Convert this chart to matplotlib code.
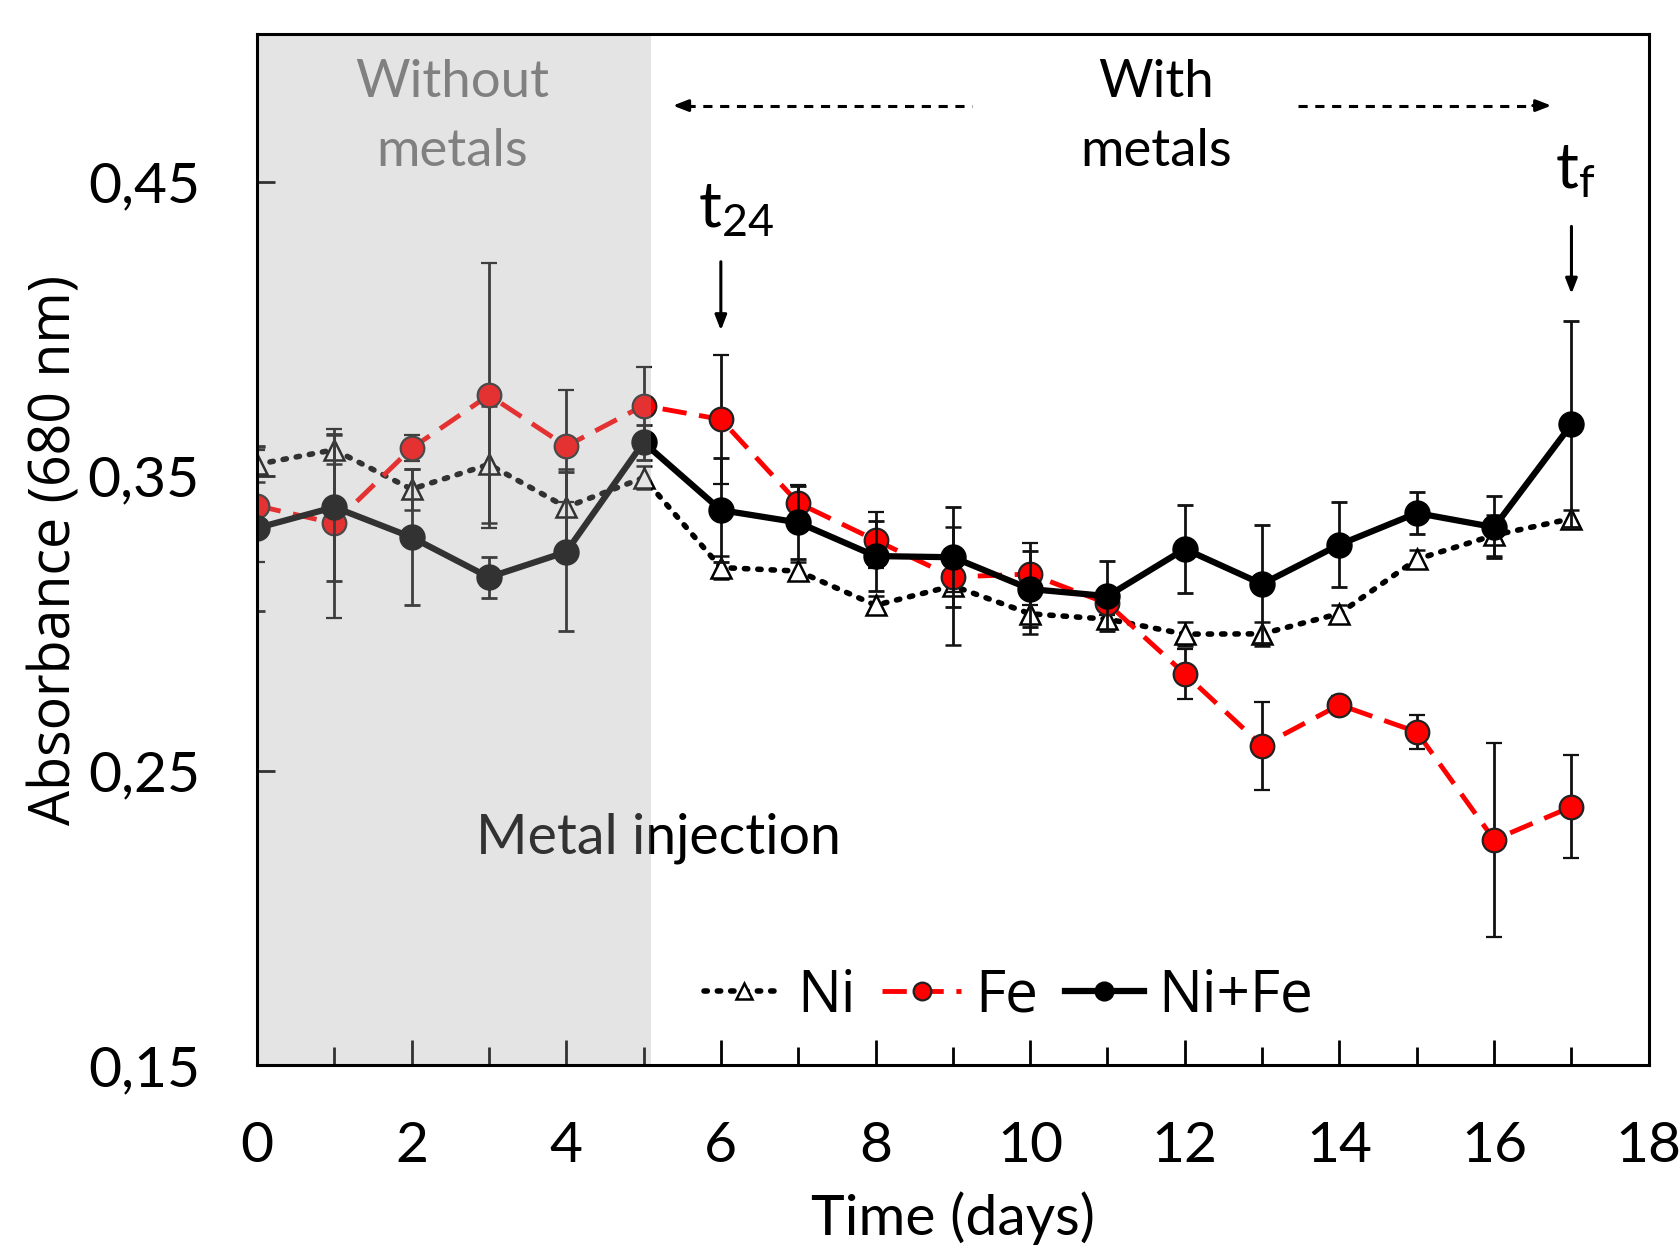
"""Absorbance at 680 nm over time for the Ni, Fe and Ni+Fe cultures."""

import matplotlib
matplotlib.use("Agg")
import matplotlib.pyplot as plt
from matplotlib.lines import Line2D
from matplotlib.ticker import FixedLocator, MultipleLocator

days = list(range(18))

ni = [0.354, 0.359, 0.3456, 0.354, 0.3395, 0.3495, 0.3190, 0.3178, 0.3062,
      0.3128, 0.3033, 0.3015, 0.2964, 0.2965, 0.3034, 0.3218, 0.3300, 0.3356]
ni_err = [0.006, 0.005, 0.007, 0.020, 0.013, 0.004, 0.004, 0.003, 0.003,
          0.020, 0.007, 0.003, 0.004, 0.004, 0.003, 0.003, 0.007, 0.003]

fe = [0.340, 0.334, 0.3595, 0.3775, 0.3602, 0.374, 0.3693, 0.3409, 0.3283,
      0.3158, 0.3168, 0.3068, 0.2829, 0.2585, 0.2724, 0.2632, 0.2266, 0.2378]
fe_err = [0.019, 0.032, 0.0045, 0.045, 0.019, 0.013, 0.022, 0.006, 0.0095,
          0.005, 0.0105, 0.004, 0.0085, 0.015, 0.003, 0.0058, 0.033, 0.0175]

nife = [0.3324, 0.3395, 0.3293, 0.3157, 0.3243, 0.3615, 0.3385, 0.3343, 0.3229,
        0.3225, 0.3117, 0.3093, 0.3253, 0.3134, 0.3268, 0.3375, 0.3327, 0.3676]
nife_err = [0.028, 0.025, 0.023, 0.007, 0.027, 0.006, 0.0176, 0.0125, 0.012,
            0.017, 0.013, 0.012, 0.015, 0.020, 0.0145, 0.007, 0.0105, 0.035]

y_ticks = [0.15, 0.25, 0.35, 0.45]
y_labels = ["0,15", "0,25", "0,35", "0,45"]
injection_day = 5.1

HUMAN = ["Lato", "DejaVu Sans"]
WIDE = ["Open Sans", "DejaVu Sans"]

fig = plt.figure(figsize=(16.79, 12.52), dpi=100)
ax = fig.add_axes([0.153, 0.149, 0.829, 0.8236])

err_kw = dict(ecolor="#111111", elinewidth=2.0, capsize=6, capthick=2.0)

styles = {
    "Ni": dict(color="black", ls=(0, (0.6, 1.8)), lw=4.0, marker="^", ms=15,
               mfc="white", mec="black", mew=1.8, dash_capstyle="round"),
    "Fe": dict(color="#ff0000", ls=(0, (5, 2.6)), lw=3.5, marker="o", ms=17,
               mfc="#ff0000", mec="#222222", mew=1.6),
    "Ni+Fe": dict(color="black", ls="-", lw=4.5, marker="o", ms=18,
                  mfc="black", mec="black"),
}

ax.errorbar(days, ni, yerr=ni_err, zorder=3, **styles["Ni"], **err_kw)
ax.errorbar(days, fe, yerr=fe_err, zorder=4, **styles["Fe"], **err_kw)
ax.errorbar(days, nife, yerr=nife_err, zorder=5, **styles["Ni+Fe"], **err_kw)

# translucent overlay for the period before metal injection
ax.axvspan(0, injection_day, color=(0.655, 0.655, 0.655), alpha=0.3,
           lw=0, zorder=8)

ax.set_xlim(0, 18)
ax.set_ylim(0.15, 0.50)
ax.xaxis.set_major_locator(MultipleLocator(2))
ax.xaxis.set_minor_locator(MultipleLocator(1))
ax.yaxis.set_major_locator(FixedLocator(y_ticks))
ax.set_yticklabels(y_labels)
ax.tick_params(axis="x", which="major", direction="in", length=18, width=2,
               pad=40, labelsize=41)
ax.tick_params(axis="x", which="minor", direction="in", length=13, width=2)
ax.tick_params(axis="y", which="major", direction="in", length=13, width=2,
               pad=41, labelsize=41)
for lab in ax.get_xticklabels() + ax.get_yticklabels():
    lab.set_family(HUMAN)
for side in ax.spines.values():
    side.set_linewidth(2.2)
    side.set_zorder(10)

ax.set_xlabel("Time (days)", fontsize=41, family=HUMAN, va="top")
ax.xaxis.set_label_coords(0.5, -0.122)
ax.set_ylabel("Absorbance (680 nm)", fontsize=40, family=WIDE)
ax.yaxis.set_label_coords(-0.124, 0.5)

# period labels
ax.text(2.53, 0.4838, "Without", ha="center", va="center", fontsize=38,
        color="#808080", family=HUMAN, zorder=11)
ax.text(2.53, 0.4602, "metals", ha="center", va="center", fontsize=38,
        color="#808080", family=HUMAN, zorder=11)
ax.text(11.63, 0.4838, "With", ha="center", va="center", fontsize=38,
        color="black", family=HUMAN, zorder=11)
ax.text(11.63, 0.4602, "metals", ha="center", va="center", fontsize=38,
        color="black", family=HUMAN, zorder=11)

# dashed arrows around "With metals"
arrow_y = 0.4758
ax.plot([5.55, 9.25], [arrow_y, arrow_y], ls=(0, (3, 2.5)), lw=2.2,
        color="black", zorder=6)
ax.plot([13.46, 16.55], [arrow_y, arrow_y], ls=(0, (3, 2.5)), lw=2.2,
        color="black", zorder=6)
head = dict(arrowstyle="-|>,head_length=0.9,head_width=0.35", lw=2.2,
            color="black", shrinkA=0, shrinkB=0)
ax.annotate("", xy=(5.38, arrow_y), xytext=(5.6, arrow_y), arrowprops=head)
ax.annotate("", xy=(16.74, arrow_y), xytext=(16.5, arrow_y), arrowprops=head)

# time points
ax.text(6.2, 0.4402, r"$\mathregular{t_{24}}$", ha="center", va="center",
        fontsize=46, family=HUMAN, zorder=11)
ax.text(17.05, 0.4535, r"$\mathregular{t_f}$", ha="center", va="center",
        fontsize=46, family=HUMAN, zorder=11)
ax.annotate("", xy=(6.0, 0.3995), xytext=(6.0, 0.4228), arrowprops=head)
ax.annotate("", xy=(17.0, 0.4119), xytext=(17.0, 0.4348), arrowprops=head)

ax.text(5.19, 0.2271, "Metal injection", ha="center", va="center",
        fontsize=40, color="black", family=HUMAN, zorder=7)

# legend handles without error bars, smaller markers
handles = []
for name in ["Ni", "Fe", "Ni+Fe"]:
    st = dict(styles[name])
    st["ms"] = st["ms"] * 0.75
    handles.append(Line2D([], [], **st))
ax.legend(handles, ["Ni", "Fe", "Ni+Fe"], loc="center",
          bbox_to_anchor=(0.54, 0.067), ncol=3, frameon=False,
          prop=dict(family=WIDE, size=42), handlelength=1.35,
          handletextpad=0.25, columnspacing=0.45, borderaxespad=0)

fig.savefig("out.png", dpi=100, facecolor="white")
